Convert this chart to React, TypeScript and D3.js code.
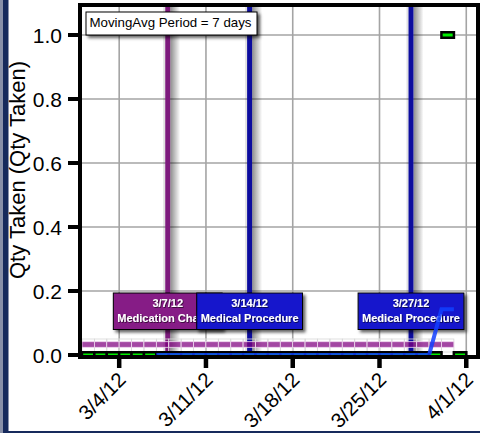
import React from "react";
import * as d3 from "d3";

const W = 480;
const H = 433;
const FONT = "'Liberation Sans', Arial, sans-serif";

// ---- data ----
const dayLabels = [
  "2012-03-01", "2012-03-02", "2012-03-03", "2012-03-04", "2012-03-05", "2012-03-06",
  "2012-03-07", "2012-03-08", "2012-03-09", "2012-03-10", "2012-03-11", "2012-03-12",
  "2012-03-13", "2012-03-14", "2012-03-15", "2012-03-16", "2012-03-17", "2012-03-18",
  "2012-03-19", "2012-03-20", "2012-03-21", "2012-03-22", "2012-03-23", "2012-03-24",
  "2012-03-25", "2012-03-26", "2012-03-27", "2012-03-28", "2012-03-29", "2012-03-30",
  "2012-03-31",
];
const qtyTaken = [
  0, 0, 0, 0, 0, 0, 0, 0, 0, 0, 0, 0, 0, 0, 0, 0, 0, 0, 0, 0, 0, 0, 0, 0, 0, 0, 0, 0, 0, 1, 0,
];
const maDays = [
  "2012-03-07", "2012-03-08", "2012-03-09", "2012-03-10", "2012-03-11", "2012-03-12",
  "2012-03-13", "2012-03-14", "2012-03-15", "2012-03-16", "2012-03-17", "2012-03-18",
  "2012-03-19", "2012-03-20", "2012-03-21", "2012-03-22", "2012-03-23", "2012-03-24",
  "2012-03-25", "2012-03-26", "2012-03-27", "2012-03-28", "2012-03-29", "2012-03-30",
  "2012-03-31",
];
const movingAvg = [
  0, 0, 0, 0, 0, 0, 0, 0, 0, 0, 0, 0, 0, 0, 0, 0, 0, 0, 0, 0, 0, 0, 0, 0.143, 0.143,
];
const scheduleDays = dayLabels.slice(0, 30);
const eventTimes = ["2012-03-07T22:00", "2012-03-14T12:30", "2012-03-27T13:00"];
const eventDates = ["3/7/12", "3/14/12", "3/27/12"];
const eventTypes = ["Medication Change", "Medical Procedure", "Medical Procedure"];
const eventKinds = ["med", "proc", "proc"];
const xTickDates = ["2012-03-04", "2012-03-11", "2012-03-18", "2012-03-25", "2012-04-01"];
const xTickLabels = ["3/4/12", "3/11/12", "3/18/12", "3/25/12", "4/1/12"];
const yTicks = [0, 0.2, 0.4, 0.6, 0.8, 1.0];
const legendText = "MovingAvg Period = 7 days";
const yTitle = "Qty Taken (Qty Taken)";

const parseDay = d3.timeParse("%Y-%m-%d");
const parseTime = d3.timeParse("%Y-%m-%dT%H:%M");

const kindColor: Record<string, { line: string; box: string }> = {
  med: { line: "#7d1a7d", box: "#861c86" },
  proc: { line: "#0c0c9e", box: "#1414cc" },
};

function measure(text: string, font: string): number {
  const c = document.createElement("canvas").getContext("2d");
  if (!c) return text.length * 6;
  c.font = font;
  return c.measureText(text).width;
}

export default function App() {
  const left = 82, right = 476, top = 7, bottom = 355;
  const x = d3
    .scaleTime()
    .domain([parseTime("2012-03-01T00:00")!, parseTime("2012-04-01T18:50")!])
    .range([left, right]);
  const y = d3.scaleLinear().domain([0, 1.0875]).range([bottom, top]);

  const noon = (s: string) => d3.timeHour.offset(parseDay(s)!, 12);
  const line = d3
    .line<number>()
    .x((_, i) => x(parseDay(maDays[i])!))
    .y((v) => y(v));

  const boxFont = "bold 11px " + FONT;
  const boxTop = bottom - 62;
  const boxH = 36.5;

  return (
    <svg
      width={W}
      height={H}
      style={{ position: "absolute", left: 0, top: 0, background: "#fff" }}
      fontFamily={FONT}
    >
      <defs>
        <linearGradient id="lineShadow" x1="0" x2="1" y1="0" y2="0">
          <stop offset="0" stopColor="#000" stopOpacity="0.45" />
          <stop offset="1" stopColor="#000" stopOpacity="0" />
        </linearGradient>
        <filter id="boxShadow" x="-10%" y="-20%" width="130%" height="160%">
          <feDropShadow dx="2.5" dy="2.5" stdDeviation="1.5" floodColor="#000" floodOpacity="0.6" />
        </filter>
        <filter id="textShadow" x="-10%" y="-30%" width="130%" height="160%">
          <feDropShadow dx="0.8" dy="0.8" stdDeviation="0.5" floodColor="#000" floodOpacity="0.7" />
        </filter>
      </defs>
      <rect x={0} y={0} width={W} height={H} fill="#fff" />

      {/* outer frame */}
      <rect x={0} y={0} width={3} height={H} fill="#8890a8" />
      <rect x={3} y={0} width={5.5} height={H} fill="#162a5c" />
      <rect x={3} y={H - 2} width={W} height={2} fill="#162a5c" />

      {/* grid */}
      {yTicks.slice(1).map((t) => (
        <line key={"gy" + t} x1={left} x2={right} y1={y(t)} y2={y(t)} stroke="#a4a4a4" strokeWidth={1.6} />
      ))}
      {xTickDates.map((d) => (
        <line key={"gx" + d} x1={x(parseDay(d)!)} x2={x(parseDay(d)!)} y1={top} y2={bottom} stroke="#a4a4a4" strokeWidth={1.6} />
      ))}

      {/* event lines */}
      {eventTimes.map((t, i) => {
        const ex = x(parseTime(t)!);
        return (
          <g key={"ev" + i}>
            <rect x={ex + 2.5} y={top} width={10} height={bottom - top} fill="url(#lineShadow)" />
            <rect x={ex - 4.5} y={top} width={2} height={bottom - top} fill="#000" opacity={0.12} />
            <line x1={ex} x2={ex} y1={top} y2={bottom} stroke={kindColor[eventKinds[i]].line} strokeWidth={5} />
          </g>
        );
      })}

      {/* schedule band */}
      {scheduleDays.map((d) => {
        const x0 = x(parseDay(d)!);
        const x1 = x(d3.timeDay.offset(parseDay(d)!, 1));
        return (
          <g key={"sb" + d}>
            <rect x={x0} y={bottom - 16} width={x1 - x0} height={13} fill="none" stroke="#d8d8d8" strokeWidth={0.8} />
            <rect x={x0} y={bottom - 13.3} width={x1 - x0} height={5.6} fill="#800080" fillOpacity={0.72} stroke="#f0d8f0" strokeWidth={0.8} />
          </g>
        );
      })}

      {/* event label boxes */}
      {eventTimes.map((t, i) => {
        const ex = x(parseTime(t)!);
        const w = Math.max(measure(eventTypes[i], boxFont), measure(eventDates[i], boxFont)) + 8;
        return (
          <g key={"lb" + i}>
            <rect
              x={ex - w / 2}
              y={boxTop}
              width={w}
              height={boxH}
              fill={kindColor[eventKinds[i]].box}
              stroke="#000"
              strokeWidth={1}
              filter="url(#boxShadow)"
            />
            <g fill="#fff" fontWeight="bold" fontSize={11} textAnchor="middle" filter="url(#textShadow)">
              <text x={ex} y={boxTop + 13.5}>{eventDates[i]}</text>
              <text x={ex} y={boxTop + 29}>{eventTypes[i]}</text>
            </g>
          </g>
        );
      })}

      {/* daily markers */}
      {dayLabels.map((d, i) => (
        <rect
          key={"mk" + d}
          x={x(noon(d)) - 6.25}
          y={y(qtyTaken[i]) - 2.75}
          width={12.5}
          height={5.5}
          fill="#00ee00"
          stroke="#000"
          strokeWidth={2.5}
        />
      ))}

      {/* moving average */}
      <path d={line(movingAvg) || ""} fill="none" stroke="#1040ff" strokeOpacity={0.85} strokeWidth={4} />

      {/* legend */}
      <rect x={left + 4} y={top + 5} width={171} height={23} fill="#fff" stroke="#000" strokeWidth={1} filter="url(#boxShadow)" />
      <text x={left + 7.5} y={top + 20} fontSize={13.3} fill="#000">{legendText}</text>

      {/* axes frame */}
      <rect x={left - 2} y={top - 2} width={right - left + 4} height={bottom - top + 4} fill="none" stroke="#000" strokeWidth={4} />

      {/* y ticks */}
      {yTicks.map((t) => (
        <g key={"yt" + t}>
          <line x1={left - 14} x2={left - 2} y1={y(t)} y2={y(t)} stroke="#000" strokeWidth={4} />
          <text x={62} y={y(t) + 7.5} textAnchor="end" fontSize={21} fill="#000">
            {d3.format(".1f")(t)}
          </text>
        </g>
      ))}
      <text transform={`translate(25,${(top + bottom) / 2 - 11}) rotate(-90)`} textAnchor="middle" fontSize={22} fill="#000">
        {yTitle}
      </text>

      {/* x ticks */}
      {xTickDates.map((d, i) => {
        const tx = x(parseDay(d)!);
        return (
          <g key={"xt" + d}>
            <line x1={tx} x2={tx} y1={bottom + 2} y2={bottom + 13} stroke="#000" strokeWidth={4.5} />
            <text transform={`translate(${tx + 8},${bottom + 26}) rotate(-45)`} textAnchor="end" fontSize={20.5} fill="#000">
              {xTickLabels[i]}
            </text>
          </g>
        );
      })}
    </svg>
  );
}
